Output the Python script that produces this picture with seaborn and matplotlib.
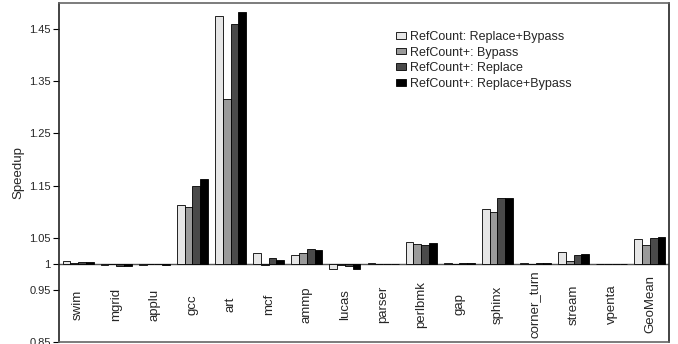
import numpy as np
import pandas as pd
import matplotlib
matplotlib.use("Agg")
import matplotlib.pyplot as plt
from matplotlib.patches import Patch
import seaborn as sns

benchmarks = ["swim", "mgrid", "applu", "gcc", "art", "mcf", "ammp", "lucas",
              "parser", "perlbmk", "gap", "sphinx", "corner_turn", "stream",
              "vpenta", "GeoMean"]

configs = ["RefCount: Replace+Bypass", "RefCount+: Bypass",
           "RefCount+: Replace", "RefCount+: Replace+Bypass"]

refcount_replace_bypass = [1.005, 0.998, 0.998, 1.112, 1.475, 1.021, 1.017, 0.990,
                           1.001, 1.041, 1.001, 1.105, 1.001, 1.023, 1.0005, 1.047]
refcount_plus_bypass = [1.001, 0.999, 0.999, 1.108, 1.315, 0.998, 1.021, 0.998,
                        0.999, 1.038, 1.000, 1.0985, 1.000, 1.0045, 1.0005, 1.036]
refcount_plus_replace = [1.004, 0.995, 1.000, 1.150, 1.460, 1.012, 1.028, 0.9955,
                         1.000, 1.036, 1.001, 1.126, 1.001, 1.017, 1.0005, 1.050]
refcount_plus_replace_bypass = [1.004, 0.996, 0.998, 1.162, 1.482, 1.008, 1.027, 0.990,
                                0.999, 1.039, 1.001, 1.1255, 1.001, 1.0185, 1.0005, 1.0515]

y_ticks = [0.85, 0.95, 1.0, 1.05, 1.15, 1.25, 1.35, 1.45]
y_tick_labels = ["0.85", "0.95", "1", "1.05", "1.15", "1.25", "1.35", "1.45"]

palette = ["#e6e6e6", "#9a9a9a", "#4a4a4a", "#000000"]

series = [refcount_replace_bypass, refcount_plus_bypass,
          refcount_plus_replace, refcount_plus_replace_bypass]
rows = []
for cfg, vals in zip(configs, series):
    for b, v in zip(benchmarks, vals):
        rows.append({"benchmark": b, "config": cfg, "speedup": v})
df = pd.DataFrame(rows)
# bars grow up or down from the speedup = 1 baseline
df["delta"] = df["speedup"] - 1.0

sns.set_style("white")
plt.rcParams["font.family"] = ["Liberation Sans", "DejaVu Sans"]

fig = plt.figure(figsize=(6.78, 3.44), dpi=100)
ax = fig.add_axes([59 / 678, 2 / 344, 610 / 678, 339 / 344])

sns.barplot(data=df, x="benchmark", y="delta", hue="config", order=benchmarks,
            hue_order=configs, palette=palette, width=0.81, ax=ax,
            edgecolor="black", linewidth=0.6, saturation=1.0, bottom=1.0,
            errorbar=None, legend=False)

ax.set_ylim(0.85, 1.5)
ax.set_xlim(-0.5, len(benchmarks) - 0.5)
ax.set_yticks(y_ticks)
ax.set_yticklabels(y_tick_labels, fontsize=8)
ax.tick_params(axis="y", direction="out", length=4, width=0.8, color="black", pad=2, left=True)
ax.set_xticks([])
ax.set_xlabel("")
ax.set_ylabel("Speedup", fontsize=9.5, labelpad=3)

ax.axhline(1.0, color="#555555", lw=1.0, zorder=0.5)

for i, name in enumerate(benchmarks):
    ax.text(i, 0.922, name, rotation=90, ha="center", va="center", fontsize=9.5)

for side, sp in ax.spines.items():
    sp.set_visible(True)
    sp.set_color("#666666" if side in ("top", "bottom") else "#222222")
    sp.set_linewidth(1.2)

handles = [Patch(facecolor=c, edgecolor="black", linewidth=0.6, label=l)
           for c, l in zip(palette, configs)]
ax.legend(handles=handles, loc="upper left", bbox_to_anchor=(0.552, 0.918), frameon=False,
          fontsize=9, handlelength=0.8, handleheight=0.45, handletextpad=0.35,
          labelspacing=0.3, borderpad=0, borderaxespad=0)

fig.savefig("out.png", dpi=100)
